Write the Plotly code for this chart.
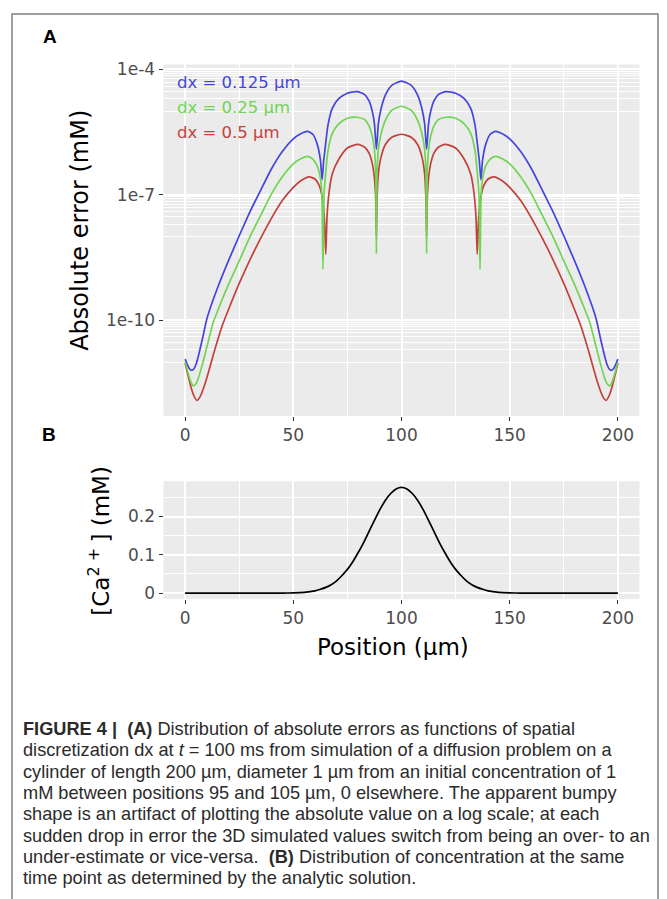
import plotly.graph_objects as go

# ---------------- Panel A data (absolute error, mM) ----------------
blue_x = [0, 1, 2, 3, 4, 5, 6, 8, 10, 12, 15, 20, 25, 30, 35, 40, 45, 50, 53, 56.5,
          59, 61, 62.5, 63.3, 64, 65, 66, 68, 71, 75, 79.4, 83, 85, 86.5, 87.5, 88.4, 89.3, 90.5, 92.5, 95.5,
          100,
          104.5, 107.5, 109.5, 110.7, 111.6, 112.5, 113.5, 115, 117, 120.6,
          125, 129, 132, 134, 135, 136, 136.7, 137.5, 139, 141,
          143.5, 147, 150, 155, 160, 165, 170, 175, 180, 185,
          188, 190, 192, 194, 195, 196, 197, 198, 199, 200]
blue_err = [1.17e-11, 8.7e-12, 6.9e-12, 6.3e-12, 6.8e-12, 8.7e-12, 1.32e-11, 3.6e-11, 1.05e-10, 2.24e-10,
            6.0e-10, 2.63e-9, 1.05e-8, 3.98e-8, 1.32e-7, 4.27e-7, 1.10e-6, 2.19e-6, 2.82e-6, 3.31e-6,
            2.82e-6, 1.66e-6, 7.1e-7, 2.29e-7, 6.3e-7, 1.78e-6, 4.6e-6, 1.17e-5, 2.0e-5, 2.69e-5,
            2.95e-5, 2.51e-5, 1.78e-5, 1.0e-5, 5.0e-6, 1.23e-6, 5.0e-6, 1.12e-5, 2.4e-5, 4.17e-5,
            5.25e-5,
            4.17e-5, 2.4e-5, 1.12e-5, 5.0e-6, 1.23e-6, 5.0e-6, 1.0e-5, 1.78e-5, 2.51e-5, 2.95e-5,
            2.69e-5, 2.0e-5, 1.17e-5, 4.6e-6, 1.78e-6, 6.3e-7, 2.29e-7, 7.1e-7, 1.66e-6, 2.82e-6,
            3.31e-6, 2.82e-6, 2.19e-6, 1.10e-6, 4.27e-7, 1.32e-7, 3.98e-8, 1.05e-8, 2.63e-9, 6.0e-10,
            2.24e-10, 1.05e-10, 3.6e-11, 1.32e-11, 8.7e-12, 6.8e-12, 6.3e-12, 6.9e-12, 8.7e-12, 1.17e-11]

green_x = [0, 1, 2, 3, 3.8, 5, 6, 8, 10, 13, 15, 20, 25, 30, 35, 40, 45, 50, 53, 56.5,
           59, 61, 62.5, 63.2, 63.7, 64.2, 65, 66, 68, 71, 75, 79.4, 83, 85, 86.5, 87.5, 88.1, 88.4, 88.7, 89.3,
           90.5, 92.5, 95.5, 100,
           104.5, 107.5, 109.5, 110.7, 111.3, 111.6, 111.9, 112.5, 113.5, 115,
           117, 120.6, 125, 129, 132, 134, 135, 135.8, 136.3, 136.8,
           137.5, 139, 141, 143.5, 147, 150, 155, 160, 165, 170,
           175, 180, 185, 187, 190, 192, 194, 195, 196.2, 197, 198, 199, 200]
green_err = [1.0e-11, 6.3e-12, 4.17e-12, 3.02e-12, 2.69e-12, 3.02e-12, 3.98e-12, 8.9e-12, 2.24e-11, 8.9e-11,
             1.66e-10, 7.1e-10, 2.63e-9, 1.0e-8, 3.31e-8, 1.07e-7, 2.75e-7, 5.5e-7, 7.1e-7, 8.3e-7,
             7.2e-7, 5.0e-7, 2.51e-7, 1.0e-7, 1.66e-9, 1.0e-7, 3.55e-7, 1.12e-6, 2.95e-6, 5.0e-6,
             6.8e-6, 7.2e-6, 6.3e-6, 4.47e-6, 2.51e-6, 1.20e-6, 3.16e-7, 3.9e-9, 3.16e-7, 1.20e-6,
             2.82e-6, 6.0e-6, 1.05e-5, 1.32e-5,
             1.05e-5, 6.0e-6, 2.82e-6, 1.20e-6, 3.16e-7, 3.9e-9, 3.16e-7, 1.20e-6, 2.51e-6, 4.47e-6,
             6.3e-6, 7.2e-6, 6.8e-6, 5.0e-6, 2.95e-6, 1.12e-6, 3.55e-7, 1.0e-7, 1.66e-9, 1.0e-7,
             2.51e-7, 5.0e-7, 7.2e-7, 8.3e-7, 7.1e-7, 5.5e-7, 2.75e-7, 1.07e-7, 3.31e-8, 1.0e-8,
             2.63e-9, 7.1e-10, 1.66e-10, 8.9e-11, 2.24e-11, 8.9e-12, 3.98e-12, 3.02e-12, 2.69e-12, 3.02e-12,
             4.17e-12, 6.3e-12, 1.0e-11]

red_x = [0, 1, 2, 3, 4, 5.4, 7, 9, 11, 13, 15, 17, 20, 25, 30, 35, 40, 45, 50, 53,
         57.3, 60, 62, 63.5, 64.4, 65, 65.6, 66.5, 68, 71, 75, 79.9, 83, 85, 86.5, 87.5, 88.1, 88.4, 88.7, 89.3,
         90.5, 92.5, 95.5, 100,
         104.5, 107.5, 109.5, 110.7, 111.3, 111.6, 111.9, 112.5, 113.5, 115,
         117, 120.1, 125, 129, 132, 133.5, 134.4, 135, 135.6, 136.5,
         138, 140, 142.7, 147, 150, 155, 160, 165, 170, 175,
         180, 183, 185, 187, 189, 191, 193, 194.6, 196, 197, 198, 199, 200]
red_err = [9.3e-12, 5.6e-12, 3.47e-12, 2.24e-12, 1.58e-12, 1.20e-12, 1.51e-12, 2.82e-12, 6.3e-12, 1.48e-11,
           3.31e-11, 7.1e-11, 1.78e-10, 7.6e-10, 2.82e-9, 9.3e-9, 2.82e-8, 7.4e-8, 1.51e-7, 2.09e-7,
           2.69e-7, 2.40e-7, 1.66e-7, 7.9e-8, 2.51e-8, 3.8e-9, 3.16e-8, 1.12e-7, 3.16e-7, 7.1e-7,
           1.32e-6, 1.62e-6, 1.38e-6, 1.0e-6, 5.6e-7, 2.51e-7, 7.9e-8, 1.0e-8, 7.9e-8, 3.16e-7,
           7.9e-7, 1.58e-6, 2.40e-6, 2.82e-6,
           2.40e-6, 1.58e-6, 7.9e-7, 3.16e-7, 7.9e-8, 1.0e-8, 7.9e-8, 2.51e-7, 5.6e-7, 1.0e-6,
           1.38e-6, 1.62e-6, 1.32e-6, 7.1e-7, 3.16e-7, 1.12e-7, 3.16e-8, 3.8e-9, 2.51e-8, 7.9e-8,
           1.66e-7, 2.40e-7, 2.69e-7, 2.09e-7, 1.51e-7, 7.4e-8, 2.82e-8, 9.3e-9, 2.82e-9, 7.6e-10,
           1.78e-10, 7.1e-11, 3.31e-11, 1.48e-11, 6.3e-12, 2.82e-12, 1.51e-12, 1.20e-12, 1.58e-12, 2.24e-12,
           3.47e-12, 5.6e-12, 9.3e-12]

series_labels = ["dx = 0.125 µm", "dx = 0.25 µm", "dx = 0.5 µm"]
series_colors = ["#4545DD", "#6FD552", "#C3413C"]

# ---------------- Panel B data (analytic concentration, mM) ----------------
pos_b = [0, 10, 20, 30, 40, 45, 50, 55, 60, 62.5, 65, 67.5, 70, 72.5, 75, 77.5, 80, 82.5, 85, 87.5,
         90, 92.5, 95, 97.5, 100, 102.5, 105, 107.5, 110, 112.5, 115, 117.5, 120, 122.5, 125,
         127.5, 130, 132.5, 135, 137.5, 140, 145, 150, 155, 160, 170, 180, 190, 200]
conc_b = [0, 0, 0, 0, 0, 0.0001, 0.0007, 0.002, 0.006, 0.010, 0.015, 0.022, 0.032, 0.046, 0.062, 0.082,
          0.106, 0.132, 0.161, 0.190, 0.218, 0.242, 0.260, 0.272, 0.276, 0.272, 0.260, 0.242, 0.218,
          0.190, 0.161, 0.132, 0.106, 0.082, 0.062, 0.046, 0.032, 0.022, 0.015, 0.010, 0.006, 0.002,
          0.0007, 0.0001, 0, 0, 0, 0, 0]

x_ticks = [0, 50, 100, 150, 200]
x_minor = [25, 75, 125, 175]
ya_ticks = [1e-4, 1e-7, 1e-10]
ya_ticktext = ["1e-4", "1e-7", "1e-10"]
ya_minor = [k * d for d in (1e-5, 1e-8, 1e-11) for k in range(1, 10)]
yb_ticks = [0, 0.1, 0.2]
yb_ticktext = ["0", "0.1", "0.2"]
yb_minor = [0.05, 0.15, 0.25]

caption_lines = [
    "<b>FIGURE 4 |</b>\u00a0 <b>(A)</b> Distribution of absolute errors as functions of spatial",
    "discretization dx at <i>t</i> = 100 ms from simulation of a diffusion problem on a",
    "cylinder of length 200 µm, diameter 1 µm from an initial concentration of 1",
    "mM between positions 95 and 105 µm, 0 elsewhere. The apparent bumpy",
    "shape is an artifact of plotting the absolute value on a log scale; at each",
    "sudden drop in error the 3D simulated values switch from being an over- to an",
    "under-estimate or vice-versa.\u00a0 <b>(B)</b> Distribution of concentration at the same",
    "time point as determined by the analytic solution.",
]

W, H = 667, 899
OFF = 8  # page body margin in the browser
FONT = "DejaVu Sans"

def px(x):
    return (x - OFF) / W

def py(y):
    return 1 - (y - OFF) / H

fig = go.Figure()
for xs, ys, col in [(blue_x, blue_err, series_colors[0]),
                    (red_x, red_err, series_colors[2]),
                    (green_x, green_err, series_colors[1])]:
    fig.add_trace(go.Scatter(x=xs, y=ys, mode="lines",
                             line=dict(color=col, width=1.7, shape="spline", smoothing=0.6),
                             xaxis="x", yaxis="y", hoverinfo="skip"))
fig.add_trace(go.Scatter(x=pos_b, y=conc_b, mode="lines",
                         line=dict(color="black", width=1.7, shape="spline", smoothing=0.6),
                         xaxis="x2", yaxis="y2", hoverinfo="skip"))

x_dom = [px(163.5), px(639.5)]
tickfont = dict(family=FONT, size=17, color="#4D4D4D")
common_axis = dict(showline=False, zeroline=False, ticks="outside", ticklen=4, tickwidth=1.3,
                   tickcolor="#333333", showgrid=True, gridcolor="white", gridwidth=1.8,
                   tickfont=tickfont)

fig.update_layout(
    width=W, height=H, margin=dict(l=0, r=0, t=0, b=0),
    paper_bgcolor="white", plot_bgcolor="#EBEBEB", showlegend=False,
    xaxis=dict(domain=x_dom, range=[-10, 210], anchor="y", tickmode="array", tickvals=x_ticks,
               minor=dict(tickvals=x_minor, showgrid=True, gridcolor="white", gridwidth=0.9, ticks=""),
               **common_axis),
    yaxis=dict(domain=[py(415), py(60)], type="log", range=[-12.29, -3.88], anchor="x",
               tickmode="array", tickvals=ya_ticks, ticktext=ya_ticktext,
               minor=dict(tickvals=ya_minor, showgrid=True, gridcolor="white", gridwidth=0.9, ticks=""),
               **common_axis),
    xaxis2=dict(domain=x_dom, range=[-10, 210], anchor="y2", tickmode="array", tickvals=x_ticks,
                minor=dict(tickvals=x_minor, showgrid=True, gridcolor="white", gridwidth=0.9, ticks=""),
                **common_axis),
    yaxis2=dict(domain=[py(600), py(481)], range=[-0.0155, 0.292], anchor="x2",
                tickmode="array", tickvals=yb_ticks, ticktext=yb_ticktext,
                minor=dict(tickvals=yb_minor, showgrid=True, gridcolor="white", gridwidth=0.9, ticks=""),
                **common_axis),
)

# outer frame
fig.add_shape(type="rect", xref="paper", yref="paper", x0=px(12), x1=px(658), y0=-0.05, y1=py(9),
              line=dict(color="#808080", width=1.5), fillcolor="rgba(0,0,0,0)", layer="above")

ann = []
ann.append(dict(text="<b>A</b>", x=px(50), y=py(32), font=dict(family="Liberation Sans", size=19, color="black")))
ann.append(dict(text="<b>B</b>", x=px(49), y=py(434), font=dict(family="Liberation Sans", size=19, color="black")))
ann.append(dict(text="Absolute error (mM)", x=px(80), y=py(228), textangle=-90,
                font=dict(family=FONT, size=24, color="black")))
ann.append(dict(text="[Ca<sup>2 + </sup>] (mM)", x=px(99), y=py(541), textangle=-90,
                font=dict(family=FONT, size=23, color="black")))
ann.append(dict(text="Position (µm)", x=px(393), y=py(648),
                font=dict(family=FONT, size=23, color="black")))
for i, (lab, col) in enumerate(zip(series_labels, series_colors)):
    ann.append(dict(text=lab, x=px(175), y=py(78 + 25.5 * i), xanchor="left",
                    font=dict(family=FONT, size=16.5, color=col)))
for i, line in enumerate(caption_lines):
    ann.append(dict(text=line, x=px(21), y=py(731 + 21.6 * i), xanchor="left",
                    font=dict(family="Liberation Sans", size=18.2, color="#2b2b2b")))

for a in ann:
    a.setdefault("xanchor", "center")
    a.update(xref="paper", yref="paper", yanchor="middle", showarrow=False)
    fig.add_annotation(**a)

fig.write_html("out.html")
